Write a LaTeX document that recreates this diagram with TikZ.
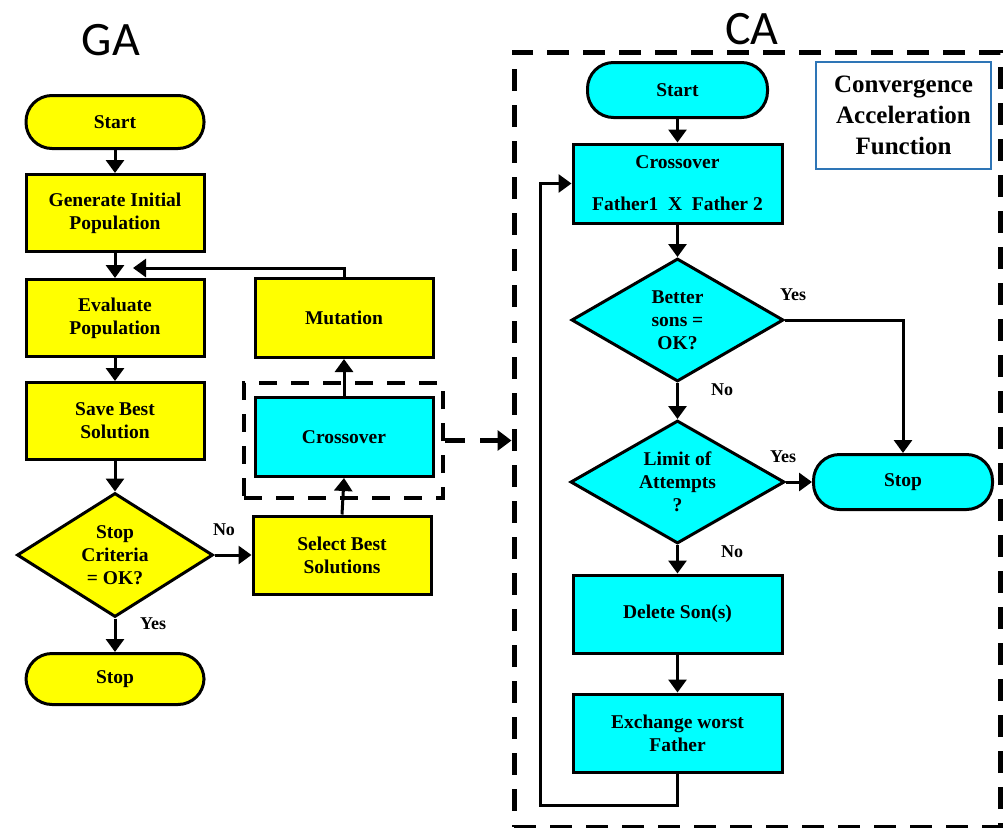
\documentclass[tikz,border=0pt]{standalone}
\usepackage{fontspec}
\setmainfont{Liberation Serif}
\newfontfamily\labfont{Carlito}
\usetikzlibrary{arrows.meta,shapes.geometric}
\definecolor{gyel}{RGB}{255,255,0}
\definecolor{gcyan}{RGB}{0,255,255}
\definecolor{cablue}{RGB}{46,117,182}
\begin{document}
\begin{tikzpicture}[x=1pt,y=-1pt,
 base/.style={draw=black, line width=3pt, align=center, inner sep=0pt, font=\fontsize{19.5}{23}\selectfont\bfseries},
 proc/.style={base, rectangle, minimum width=178pt, minimum height=77pt},
 term/.style={base, rectangle, rounded corners=26pt, minimum width=178pt, minimum height=53pt},
 dec/.style={base, diamond, aspect=1.7},
 arr/.style={line width=3pt, -{Triangle[length=13pt,width=18pt]}},
 lab/.style={font=\fontsize{18}{21}\selectfont\bfseries, inner sep=0pt},
 title/.style={font=\labfont\fontsize{48}{48}\selectfont, inner sep=0pt},
 dashbox/.style={draw, inner sep=0pt},
]
\useasboundingbox (0,0) rectangle (1005,828);

% titles
\node[title] (tga) at (111,40) {GA};
\node[title] (tca) at (752,29) {CA};

% GA nodes
\node[term, fill=gyel] (gstart) at (115,122) {Start};
\node[proc, fill=gyel] (ggen) at (115,213) {Generate Initial\\Population};
\node[proc, fill=gyel] (geval) at (115,318) {Evaluate\\Population};
\node[proc, fill=gyel] (gsave) at (115,421) {Save Best\\Solution};
\node[dec, fill=gyel, minimum width=196pt, minimum height=124pt] (gcrit) at (115,555) {Stop\\Criteria\\= OK?};
\node[term, fill=gyel, minimum height=51pt] (gstop) at (115,679) {Stop};
\node[proc, fill=gyel, minimum height=79pt] (gmut) at (344,318) {Mutation};
\node[proc, fill=gcyan, minimum height=79pt] (gcross) at (344,437) {Crossover};
\node[proc, fill=gyel, minimum height=78pt] (gsel) at (342,555) {Select Best\\Solutions};
\node[dashbox, line width=4pt, dash pattern=on 18pt off 14pt, minimum width=199pt, minimum height=115pt] (gdash) at (343.5,440.5) {};

\node[lab] (lno1) at (224,530) {No};
\node[lab] (lyes1) at (153,624) {Yes};

% GA edges
\draw[arr] (gstart) -- (ggen);
\draw[arr] (ggen) -- (geval);
\draw[arr] (geval) -- (gsave);
\draw[arr] (gsave) -- (gcrit);
\draw[arr] (gcrit) -- (gstop);
\draw[arr] (gcrit) -- (gsel);
\draw[arr] (gsel.north) -- (gcross.south);
\draw[arr] (gcross) -- (gmut);
\coordinate (gfb) at (133,268);
\draw[arr] (gmut.north) |- (gfb);

% CA box
\node[dashbox, line width=5pt, dash pattern=on 22pt off 14pt, minimum width=486pt, minimum height=775pt] (cabox) at (757,439.5) {};
\draw[line width=5pt, dash pattern=on 20pt off 15pt, -{Triangle[length=14pt,width=20pt]}] (gdash.east) -- (gdash.east -| cabox.west);

% CA nodes
\node[term, fill=gcyan, minimum width=180pt, minimum height=55pt] (cstart) at (677.5,90) {Start};
\node[proc, fill=gcyan, minimum width=209pt, minimum height=79pt] (ccross) at (677.5,183.5) {Crossover\\[19pt]Father1~~X~~Father 2};
\node[dec, fill=gcyan, minimum width=212pt, minimum height=123pt] (cbetter) at (677.5,320) {Better\\sons =\\OK?};
\node[dec, fill=gcyan, minimum width=214pt, minimum height=123pt] (climit) at (677.5,482) {Limit of\\Attempts\\?};
\node[term, fill=gcyan, minimum width=179pt, minimum height=55pt] (cstop) at (903,482) {Stop};
\node[proc, fill=gcyan, minimum width=209pt, minimum height=78pt] (cdel) at (677.5,614) {Delete Son(s)};
\node[proc, fill=gcyan, minimum width=209pt, minimum height=78pt] (cexch) at (677.5,733) {Exchange worst\\Father};
\node[draw=cablue, line width=1.5pt, minimum width=175pt, minimum height=107pt, align=center, inner sep=0pt, font=\fontsize{25}{31}\selectfont\bfseries] (cconv) at (903.5,115.5) {Convergence\\Acceleration\\Function};

\node[lab] (lyes2) at (793,295) {Yes};
\node[lab] (lno2) at (722,390) {No};
\node[lab] (lyes3) at (783,457) {Yes};
\node[lab] (lno3) at (732,552) {No};

% CA edges
\draw[arr] (cstart) -- (ccross);
\draw[arr] (ccross) -- (cbetter);
\draw[arr] (cbetter) -- (climit);
\draw[arr] (climit) -- (cdel);
\draw[arr] (cdel) -- (cexch);
\draw[arr] (cbetter.east) -| (cstop.north);
\draw[arr] (climit) -- (cstop);
\coordinate (cl) at (540,805);
\draw[arr] (cexch.south) |- (cl) |- (ccross.west);
\end{tikzpicture}
\end{document}
